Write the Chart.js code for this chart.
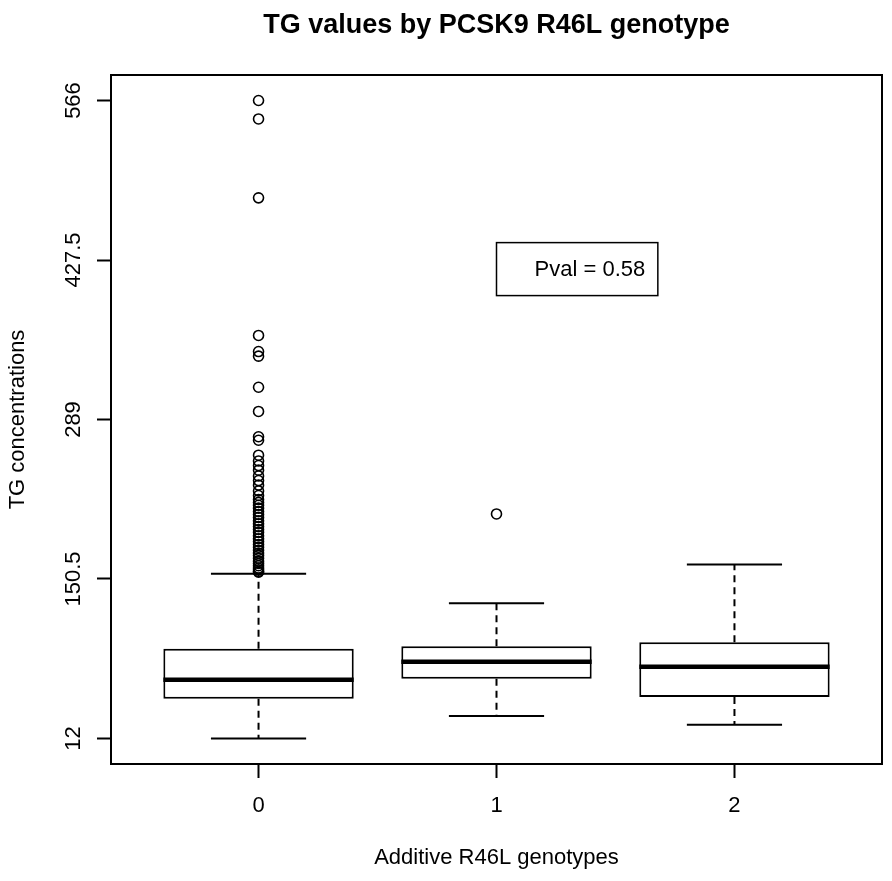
<!DOCTYPE html>
<html>
<head>
<meta charset="utf-8">
<title>TG values by PCSK9 R46L genotype</title>
<script src="https://cdn.jsdelivr.net/npm/chart.js@4.4.1/dist/chart.umd.min.js"></script>
<style>
  html, body { margin: 0; padding: 0; background: #fff; }
  canvas { display: block; }
</style>
</head>
<body>
<canvas id="tgChart" width="892" height="881"></canvas>
<script>
// boxplot stats per genotype
const genotypes = [0, 1, 2];
const genotypeLabels = ['0', '1', '2'];
const lowerWhisker = [12, 31.5, 24];
const q1 = [46.5, 63.8, 48];
const median = [63, 78.6, 74.3];
const q3 = [90, 92, 95.6];
const upperWhisker = [155, 129.5, 163];

// outliers (genotype 0 has a dense column above the whisker)
const outliers0 = [566, 550, 481.5, 362, 348, 344, 317, 296, 274, 271,
  258, 253, 249, 245, 240, 236, 232, 227, 223, 219.5,
  217, 214.5, 212, 209, 206.5, 204, 201, 198.5, 196, 193.5,
  191, 188, 185.5, 183, 180.5, 178, 175.5, 173, 171, 168.5,
  166, 164, 162, 160, 158.5, 157, 156.5];
const outliers1 = [207];

const yTickValues = [12, 150.5, 289, 427.5, 566];
const yTickLabels = ['12', '150.5', '289', '427.5', '566'];

const chartTitle = 'TG values by PCSK9 R46L genotype';
const pvalText = 'Pval = 0.58';

const FONT = '"Liberation Sans", Arial, Helvetica, sans-serif';
const BOX_HALF = 0.4;
const STAPLE_HALF = 0.2;

// turn per-group segments into one point list, broken by null y
function segments(fn) {
    const pts = [];
    genotypes.forEach((g, i) => {
        fn(g, i).forEach(seg => {
            seg.forEach(p => pts.push(p));
            pts.push({ x: g, y: null });
        });
    });
    return pts;
}

const medianPts = segments((g, i) => [[
    { x: g - BOX_HALF, y: median[i] }, { x: g + BOX_HALF, y: median[i] }
]]);
const whiskerPts = segments((g, i) => [
    [{ x: g, y: q3[i] }, { x: g, y: upperWhisker[i] }],
    [{ x: g, y: q1[i] }, { x: g, y: lowerWhisker[i] }]
]);
const staplePts = segments((g, i) => [
    [{ x: g - STAPLE_HALF, y: upperWhisker[i] }, { x: g + STAPLE_HALF, y: upperWhisker[i] }],
    [{ x: g - STAPLE_HALF, y: lowerWhisker[i] }, { x: g + STAPLE_HALF, y: lowerWhisker[i] }]
]);
const outlierPts = outliers0.map(v => ({ x: 0, y: v }))
    .concat(outliers1.map(v => ({ x: 1, y: v })));

// frame, main title and the p-value box, like base R graphics
const rDecor = {
    id: 'rDecor',
    afterDraw(chart) {
        const { ctx, chartArea: a, scales: { x, y } } = chart;
        ctx.save();
        ctx.strokeStyle = '#000';
        ctx.lineWidth = 2;
        ctx.strokeRect(a.left, a.top, a.right - a.left, a.bottom - a.top);

        ctx.fillStyle = '#000';
        ctx.font = 'bold 27px ' + FONT;
        ctx.textAlign = 'center';
        ctx.textBaseline = 'alphabetic';
        ctx.fillText(chartTitle, (a.left + a.right) / 2, 33);

        const bx1 = x.getPixelForValue(1), bx2 = x.getPixelForValue(1.678);
        const by1 = y.getPixelForValue(442.6), by2 = y.getPixelForValue(396.6);
        ctx.fillStyle = '#fff';
        ctx.fillRect(bx1, by1, bx2 - bx1, by2 - by1);
        ctx.lineWidth = 1.5;
        ctx.strokeRect(bx1, by1, bx2 - bx1, by2 - by1);
        ctx.fillStyle = '#000';
        ctx.font = '22px ' + FONT;
        ctx.textAlign = 'left';
        ctx.textBaseline = 'middle';
        ctx.fillText(pvalText, x.getPixelForValue(1.16), (by1 + by2) / 2 + 1);
        ctx.restore();
    }
};

const ctx = document.getElementById('tgChart').getContext('2d');
new Chart(ctx, {
    type: 'bar',
    data: {
        datasets: [
            {
                type: 'bar',
                data: genotypes.map((g, i) => ({ x: g, y: [q1[i], q3[i]] })),
                backgroundColor: '#fff',
                borderColor: '#000',
                borderWidth: 2,
                borderSkipped: false,
                barPercentage: 0.8,
                categoryPercentage: 1,
                order: 5
            },
            {
                type: 'line',
                data: whiskerPts,
                borderColor: '#000',
                borderWidth: 2,
                borderDash: [7, 5],
                pointRadius: 0,
                spanGaps: false,
                order: 4
            },
            {
                type: 'line',
                data: staplePts,
                borderColor: '#000',
                borderWidth: 2,
                pointRadius: 0,
                spanGaps: false,
                order: 3
            },
            {
                type: 'line',
                data: medianPts,
                borderColor: '#000',
                borderWidth: 4.5,
                borderCapStyle: 'butt',
                pointRadius: 0,
                spanGaps: false,
                order: 1
            },
            {
                type: 'scatter',
                data: outlierPts,
                pointStyle: 'circle',
                pointRadius: 5,
                pointBorderWidth: 1.6,
                pointBorderColor: '#000',
                pointBackgroundColor: 'rgba(0,0,0,0)',
                order: 0
            }
        ]
    },
    options: {
        responsive: false,
        animation: false,
        layout: { padding: { top: 75, right: 10, left: 0, bottom: 0 } },
        plugins: {
            legend: { display: false },
            tooltip: { enabled: false },
            title: { display: false }
        },
        scales: {
            x: {
                type: 'linear',
                min: -0.62,
                max: 2.62,
                offset: false,
                afterBuildTicks: s => { s.ticks = genotypes.map(v => ({ value: v })); },
                afterFit: s => { s.height = 117; },
                ticks: {
                    padding: 15,
                    color: '#000',
                    font: { family: FONT, size: 22 },
                    callback: v => genotypeLabels[genotypes.indexOf(v)]
                },
                grid: {
                    display: true,
                    offset: false,
                    drawOnChartArea: false,
                    drawTicks: true,
                    tickLength: 14,
                    tickWidth: 2,
                    tickColor: '#000'
                },
                border: { display: false },
                title: {
                    display: true,
                    text: 'Additive R46L genotypes',
                    color: '#000',
                    font: { family: FONT, size: 22 },
                    padding: { top: 0, bottom: 10 }
                }
            },
            y: {
                type: 'linear',
                min: -10.16,
                max: 588.16,
                afterBuildTicks: s => { s.ticks = yTickValues.map(v => ({ value: v })); },
                afterFit: s => { s.width = 111; },
                ticks: {
                    padding: -4,
                    minRotation: 90,
                    maxRotation: 90,
                    crossAlign: 'center',
                    color: '#000',
                    font: { family: FONT, size: 22 },
                    callback: v => yTickLabels[yTickValues.indexOf(v)]
                },
                grid: {
                    display: true,
                    drawOnChartArea: false,
                    drawTicks: true,
                    tickLength: 14,
                    tickWidth: 2,
                    tickColor: '#000'
                },
                border: { display: false },
                title: {
                    display: true,
                    text: 'TG concentrations',
                    color: '#000',
                    font: { family: FONT, size: 22 },
                    padding: { top: 5, bottom: 0 }
                }
            }
        }
    },
    plugins: [rDecor]
});
</script>
</body>
</html>
